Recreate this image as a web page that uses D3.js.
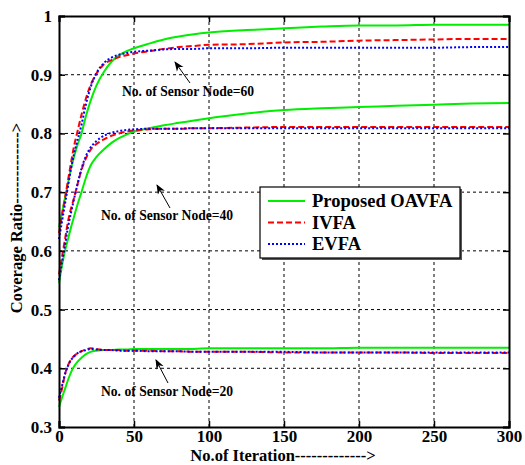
<!DOCTYPE html>
<html><head><meta charset="utf-8">
<script src="https://cdn.jsdelivr.net/npm/d3@7"></script>
<style>html,body{margin:0;padding:0;background:#fff;}svg{display:block;}</style>
</head><body>
<svg id="chart" width="525" height="465"></svg>
<script>
const iterations = [0,2,4,6,8,10,12,15,18,21,25,30,35,40,45,50,60,70,80,90,100,125,150,175,200,225,250,275,300];

const oavfa60 = [0.640,0.665,0.690,0.715,0.740,0.760,0.778,0.800,0.830,0.855,0.882,0.905,0.922,0.933,0.940,0.945,0.953,0.960,0.965,0.969,0.972,0.976,0.979,0.982,0.984,0.984,0.985,0.985,0.985];
const ivfa60  = [0.630,0.660,0.690,0.720,0.750,0.778,0.800,0.832,0.860,0.882,0.902,0.918,0.925,0.930,0.933,0.936,0.940,0.944,0.947,0.949,0.951,0.952,0.955,0.956,0.958,0.959,0.960,0.961,0.961];
const evfa60  = [0.620,0.650,0.680,0.710,0.740,0.765,0.785,0.815,0.850,0.878,0.903,0.920,0.929,0.934,0.937,0.939,0.941,0.943,0.944,0.944,0.945,0.945,0.946,0.946,0.946,0.946,0.946,0.947,0.947];

const oavfa40 = [0.545,0.575,0.600,0.620,0.640,0.658,0.676,0.700,0.725,0.745,0.760,0.773,0.784,0.792,0.798,0.803,0.809,0.814,0.818,0.822,0.826,0.834,0.840,0.843,0.845,0.847,0.849,0.851,0.852];
const ivfa40  = [0.560,0.590,0.620,0.650,0.672,0.690,0.710,0.738,0.758,0.772,0.782,0.790,0.796,0.800,0.803,0.805,0.807,0.808,0.808,0.809,0.809,0.810,0.811,0.811,0.811,0.811,0.811,0.811,0.811];
const evfa40  = [0.550,0.580,0.610,0.640,0.665,0.688,0.710,0.740,0.762,0.776,0.787,0.796,0.801,0.804,0.806,0.807,0.808,0.808,0.808,0.809,0.809,0.809,0.809,0.809,0.809,0.809,0.809,0.809,0.809];

const oavfa20 = [0.334,0.350,0.365,0.380,0.393,0.403,0.410,0.418,0.424,0.428,0.430,0.431,0.431,0.432,0.432,0.433,0.433,0.433,0.433,0.433,0.434,0.434,0.434,0.434,0.435,0.435,0.435,0.435,0.435];
const ivfa20  = [0.345,0.365,0.390,0.405,0.415,0.421,0.425,0.429,0.432,0.434,0.433,0.431,0.431,0.431,0.430,0.430,0.430,0.429,0.429,0.428,0.428,0.428,0.427,0.427,0.427,0.427,0.426,0.426,0.426];
const evfa20  = [0.350,0.370,0.390,0.404,0.414,0.420,0.425,0.429,0.431,0.433,0.432,0.431,0.431,0.430,0.430,0.430,0.429,0.429,0.429,0.428,0.428,0.428,0.428,0.427,0.427,0.427,0.427,0.427,0.427];

const xTicks = [0,50,100,150,200,250,300];
const yTicks = [0.3,0.4,0.5,0.6,0.7,0.8,0.9,1];
const seriesNames = ["Proposed OAVFA","IVFA","EVFA"];
const annotations = ["No. of Sensor Node=60","No. of Sensor Node=40","No. of Sensor Node=20"];

const svg = d3.select("#chart");
const L = 59, R = 509, T = 16, B = 427;
const x = d3.scaleLinear().domain([0,300]).range([L,R]);
const y = d3.scaleLinear().domain([0.3,1]).range([B,T]);
const serif = "'Liberation Serif','Times New Roman',serif";

// grid
const grid = svg.append("g").attr("stroke","#000").attr("stroke-width",1).attr("stroke-dasharray","3,3");
xTicks.slice(1,-1).forEach(t=>grid.append("line").attr("x1",x(t)).attr("x2",x(t)).attr("y1",T).attr("y2",B));
yTicks.slice(1,-1).forEach(t=>grid.append("line").attr("x1",L).attr("x2",R).attr("y1",y(t)).attr("y2",y(t)));

// lines
const styles = [
  {color:"#00ee00", dash:null, w:2},
  {color:"#ff0000", dash:"6,3", w:2},
  {color:"#0000ff", dash:"2,2", w:2}
];
const groups = [[oavfa60,ivfa60,evfa60],[oavfa40,ivfa40,evfa40],[oavfa20,ivfa20,evfa20]];
const line = d3.line().x((d,i)=>x(iterations[i])).y(d=>y(d)).curve(d3.curveMonotoneX);
groups.forEach(g=>{
  g.forEach((vals,k)=>{
    svg.append("path").datum(vals).attr("d",line).attr("fill","none")
      .attr("stroke",styles[k].color).attr("stroke-width",styles[k].w)
      .attr("stroke-dasharray",styles[k].dash);
  });
});

// axes
const xAxisB = d3.axisBottom(x).tickValues(xTicks).tickSize(-6).tickPadding(3).tickFormat(d3.format("d"));
const xAxisT = d3.axisTop(x).tickValues(xTicks).tickSize(-6).tickFormat("");
const yAxisL = d3.axisLeft(y).tickValues(yTicks).tickSize(-6).tickPadding(7).tickFormat(d=>d===1?"1":d3.format(".1f")(d));
const yAxisR = d3.axisRight(y).tickValues(yTicks).tickSize(-6).tickFormat("");
function styleAxis(g, fs){
  g.select(".domain").attr("stroke","#000").attr("stroke-width",2);
  g.selectAll(".tick line").attr("stroke","#000").attr("stroke-width",1.5);
  g.selectAll("text").attr("font-family",serif).attr("font-weight","bold").attr("font-size",fs).attr("fill","#000");
}
svg.append("g").attr("transform",`translate(0,${B})`).call(xAxisB).call(styleAxis,17);
svg.append("g").attr("transform",`translate(0,${T})`).call(xAxisT).call(styleAxis,17);
svg.append("g").attr("transform",`translate(${L},0)`).call(yAxisL).call(styleAxis,17);
svg.append("g").attr("transform",`translate(${R},0)`).call(yAxisR).call(styleAxis,17);

// axis titles
svg.append("text").attr("x",283).attr("y",461).attr("text-anchor","middle")
  .attr("font-family",serif).attr("font-weight","bold").attr("font-size",16.5).text("No.of Iteration------------->");
svg.append("text").attr("transform","translate(22,218) rotate(-90)").attr("text-anchor","middle")
  .attr("font-family",serif).attr("font-weight","bold").attr("font-size",16.5).text("Coverage Ratio------------->");

// annotations
svg.append("defs").append("marker").attr("id","arr").attr("viewBox","0 0 10 10").attr("refX",9).attr("refY",5)
  .attr("markerWidth",10).attr("markerHeight",10).attr("orient","auto-start-reverse")
  .append("path").attr("d","M0,1 L10,5 L0,9 L3,5 Z").attr("fill","#000");
const ann = [
  {text:annotations[0], tx:122, ty:96, ax1:190, ay1:83, ax2:175, ay2:62},
  {text:annotations[1], tx:101, ty:220, ax1:170, ay1:208, ax2:157, ay2:185},
  {text:annotations[2], tx:101, ty:396, ax1:168, ay1:383, ax2:156, ay2:360}
];
ann.forEach(a=>{
  svg.append("text").attr("x",a.tx).attr("y",a.ty).attr("font-family",serif).attr("font-weight","bold")
    .attr("font-size",13.6).text(a.text);
  svg.append("line").attr("x1",a.ax1).attr("y1",a.ay1).attr("x2",a.ax2).attr("y2",a.ay2)
    .attr("stroke","#000").attr("stroke-width",1).attr("marker-end","url(#arr)");
});

// legend
const lg = svg.append("g");
lg.append("rect").attr("x",262).attr("y",189).attr("width",200).attr("height",71).attr("fill","#555");
lg.append("rect").attr("x",260).attr("y",187).attr("width",200).attr("height",71).attr("fill","#fff").attr("stroke","#000").attr("stroke-width",1.2);
seriesNames.forEach((n,k)=>{
  const yy = 201 + k*21.5;
  lg.append("line").attr("x1",268).attr("x2",305).attr("y1",yy).attr("y2",yy)
    .attr("stroke",styles[k].color).attr("stroke-width",2).attr("stroke-dasharray",styles[k].dash);
  lg.append("text").attr("x",312).attr("y",yy+6).attr("font-family",serif).attr("font-weight","bold")
    .attr("font-size",18.5).text(n);
});
</script>
</body></html>
